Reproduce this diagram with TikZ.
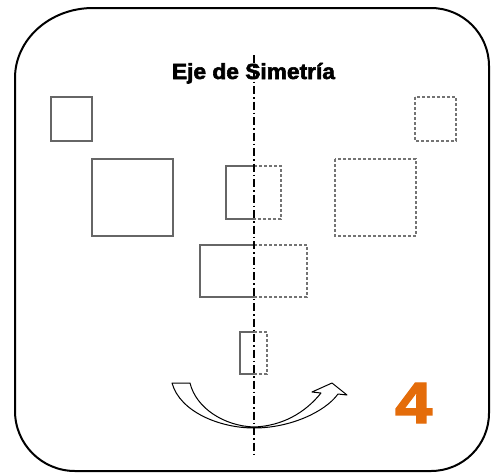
\documentclass[tikz,border=0pt]{standalone}
\usepackage{fontspec}
\setmainfont{Liberation Sans}
\newfontfamily\heavyfont[FakeBold=2.5]{Liberation Sans Bold}
\definecolor{numorange}{RGB}{228,108,10}
\tikzset{
  frame/.style={draw=black, line width=2pt},
  solidbox/.style={draw=black!60, line width=1.3pt},
  mirrorbox/.style={draw=black!55, line width=1.3pt, dash pattern=on 3pt off 2pt},
  axisline/.style={draw=black, line width=1.4pt, dash pattern=on 8pt off 3pt on 1.5pt off 3pt},
  turnarrow/.style={draw=black, fill=white, line width=1pt, line join=round}
}
\begin{document}
\begin{tikzpicture}[x=1pt,y=-1pt]
\useasboundingbox (0,0) rectangle (492,474);
% frame
\draw[frame] (15,78) arc[start angle=180,end angle=270,x radius=78,y radius=70] -- (431,8)
  arc[start angle=270,end angle=360,radius=58] -- (489,413)
  arc[start angle=0,end angle=90,radius=58] -- (75,471)
  arc[start angle=90,end angle=180,radius=60] -- cycle;
% title
\node[anchor=base, inner sep=0pt] (title) at (253.5,79) {\resizebox{163pt}{16pt}{\heavyfont Eje de Simetría}};
% left solid squares
\draw[solidbox] (51,97) rectangle (92,141);
\draw[solidbox] (92,159) rectangle (173,236);
% right dashed squares
\draw[mirrorbox] (415,97) rectangle (456,141);
\draw[mirrorbox] (335,159) rectangle (416,236);
% middle split rectangles
\draw[solidbox] (254,166) -- (226,166) -- (226,219) -- (254,219);
\draw[mirrorbox] (254,166) -- (281,166) -- (281,219) -- (254,219);
\draw[solidbox] (254,245) -- (200,245) -- (200,297) -- (254,297);
\draw[mirrorbox] (254,245) -- (307,245) -- (307,297) -- (254,297);
\draw[solidbox] (254,332) -- (240,332) -- (240,374) -- (254,374);
\draw[mirrorbox] (254,332) -- (267,332) -- (267,374) -- (254,374);
% turning arrow
\draw[turnarrow] (172,383) .. controls (180,412) and (220,428) .. (254,428)
  .. controls (290,428) and (325,412) .. (338,394)
  -- (347,395) -- (332,383) -- (312,392) -- (321,393)
  .. controls (305,413) and (282,426) .. (254,427)
  .. controls (224,426) and (196,408) .. (190,383) -- cycle;
% axis
\coordinate (axtop) at (254,55);
\coordinate (axbot) at (254,456);
\draw[axisline] (axtop) -- (axbot);
% number
\node[anchor=base west, inner sep=0pt, text=numorange] (num) at (395,423) {\resizebox{37pt}{40pt}{\heavyfont 4}};
\end{tikzpicture}
\end{document}
